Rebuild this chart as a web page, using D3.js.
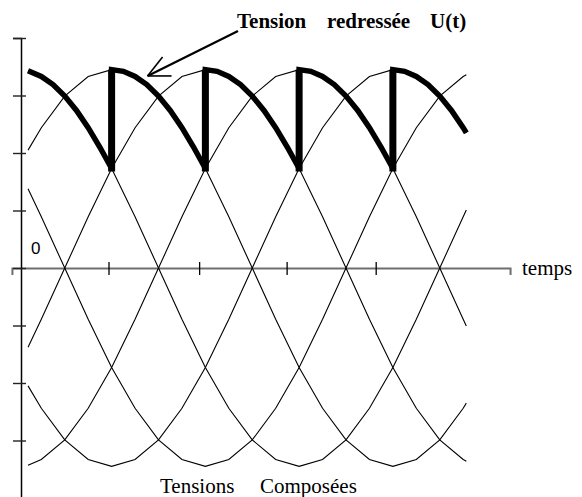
<!DOCTYPE html>
<html>
<head>
<meta charset="utf-8">
<script src="https://cdn.jsdelivr.net/npm/d3@7"></script>
<style>
  html, body { margin: 0; padding: 0; background: #fff; }
  svg { display: block; }
  text { fill: #000; }
</style>
</head>
<body>
<script>
// Time samples (electrical degrees) shared by every waveform
const times = [4.5, 13, 28, 43, 58, 73, 88, 103, 118, 133, 148, 163, 178, 193, 208, 223, 238, 253, 268, 283, 285];

// Line voltages (tensions composées) and their opposites, in axis units
const u12 = [3.43, 3.33, 2.99, 2.44, 1.73, 0.89, 0, -0.89, -1.73, -2.44, -2.99, -3.33, -3.45, -3.33, -2.99, -2.44, -1.73, -0.89, 0, 0.89, 1.01];
const u13n = [2.05, 2.44, 2.99, 3.33, 3.45, 3.33, 2.99, 2.44, 1.73, 0.89, 0, -0.89, -1.73, -2.44, -2.99, -3.33, -3.45, -3.33, -2.99, -2.44, -2.35];
const u23 = [-1.38, -0.89, 0, 0.89, 1.73, 2.44, 2.99, 3.33, 3.45, 3.33, 2.99, 2.44, 1.73, 0.89, 0, -0.89, -1.73, -2.44, -2.99, -3.33, -3.36];
const u21 = [-3.43, -3.33, -2.99, -2.44, -1.73, -0.89, 0, 0.89, 1.73, 2.44, 2.99, 3.33, 3.45, 3.33, 2.99, 2.44, 1.73, 0.89, 0, -0.89, -1.01];
const u31 = [-2.05, -2.44, -2.99, -3.33, -3.45, -3.33, -2.99, -2.44, -1.73, -0.89, 0, 0.89, 1.73, 2.44, 2.99, 3.33, 3.45, 3.33, 2.99, 2.44, 2.35];
const u32 = [1.38, 0.89, 0, -0.89, -1.73, -2.44, -2.99, -3.33, -3.45, -3.33, -2.99, -2.44, -1.73, -0.89, 0, 0.89, 1.73, 2.44, 2.99, 3.33, 3.36];
const lineVoltages = [u12, u13n, u23, u21, u31, u32];

// Rectified voltage U(t): follows each line voltage for 60°, then jumps to the next one
const redT = [4.5, 13, 20.5, 28, 35.5, 43, 50.5, 58,
  58, 65.5, 73, 80.5, 88, 95.5, 103, 110.5, 118,
  118, 125.5, 133, 140.5, 148, 155.5, 163, 170.5, 178,
  178, 185.5, 193, 200.5, 208, 215.5, 223, 230.5, 238,
  238, 245.5, 253, 260.5, 268, 275.5, 283, 285];
const redU = [3.43, 3.33, 3.19, 2.99, 2.74, 2.44, 2.10, 1.73,
  3.45, 3.42, 3.33, 3.19, 2.99, 2.74, 2.44, 2.10, 1.73,
  3.45, 3.42, 3.33, 3.19, 2.99, 2.74, 2.44, 2.10, 1.73,
  3.45, 3.42, 3.33, 3.19, 2.99, 2.74, 2.44, 2.10, 1.73,
  3.45, 3.42, 3.33, 3.19, 2.99, 2.74, 2.44, 2.35];

// Axis ticks
const yTicks = [-4, -3, -2, -1, 0, 1, 2, 3, 4];
const xTicks = [56, 114, 170, 227];

const W = 582, H = 497;
const svg = d3.select("body").append("svg").attr("width", W).attr("height", H);

const x = d3.scaleLinear().domain([0, 360]).range([21, 583.5]);
const y = d3.scaleLinear().domain([-4, 4]).range([498, 38]);

// Horizontal time axis (grey), crossing the vertical axis at 0
const xAxisScale = d3.scaleLinear().domain([-5.8, 313]).range([x(-5.8), x(313)]);
const gx = svg.append("g").attr("transform", `translate(0,${y(0)})`)
  .call(d3.axisBottom(xAxisScale).tickValues(xTicks).tickSizeOuter(0).tickSize(7).tickFormat(""));
gx.select(".domain").attr("stroke", "#6e6e6e").attr("stroke-width", 2);
gx.selectAll(".tick line").attr("y1", -6).attr("y2", 7).attr("stroke", "#000").attr("stroke-width", 1.3);

// Vertical axis
const gy = svg.append("g").attr("transform", `translate(${x(0)},0)`)
  .call(d3.axisLeft(y).tickValues(yTicks).tickSizeOuter(0).tickSize(8).tickFormat(""));
gy.select(".domain").attr("stroke", "#000").attr("stroke-width", 1.5);
gy.selectAll(".tick line").attr("x1", 5).attr("x2", -8).attr("stroke", "#222").attr("stroke-width", 1.4);

// Thin line-voltage curves
const line = d3.line().x((d, i) => x(times[i])).y(d => y(d));
svg.append("g").selectAll("path").data(lineVoltages).join("path")
  .attr("d", line)
  .attr("fill", "none").attr("stroke", "#000").attr("stroke-width", 1.1);

// Bold rectified voltage
const redLine = d3.line().x((d, i) => x(redT[i])).y(d => y(d));
svg.append("path").attr("d", redLine(redU))
  .attr("fill", "none").attr("stroke", "#000").attr("stroke-width", 5.5)
  .attr("stroke-linejoin", "miter").attr("stroke-miterlimit", 2);

// Commutation jumps drawn heavier
const jumps = redT.map((t, i) => i).filter(i => i > 0 && redT[i] === redT[i - 1]);
svg.append("g").selectAll("line").data(jumps).join("line")
  .attr("x1", i => x(redT[i])).attr("x2", i => x(redT[i]))
  .attr("y1", i => y(redU[i - 1]) + 3).attr("y2", i => y(redU[i]))
  .attr("stroke", "#000").attr("stroke-width", 7);

// Labels
const serif = "'Liberation Serif', 'Times New Roman', serif";
svg.append("text").attr("x", 31).attr("y", 254)
  .style("font-family", "'Liberation Sans', Arial, sans-serif").style("font-size", "17px").text("0");
svg.append("text").attr("x", 522).attr("y", 275)
  .style("font-family", serif).style("font-size", "21px").text("temps");

const title = [["Tension", 237], ["redressée", 327], ["U(t)", 430]];
svg.append("g").selectAll("text").data(title).join("text")
  .attr("x", d => d[1]).attr("y", 28)
  .style("font-family", serif).style("font-size", "21px").style("font-weight", "bold")
  .text(d => d[0]);

const caption = [["Tensions", 160], ["Composées", 260]];
svg.append("g").selectAll("text").data(caption).join("text")
  .attr("x", d => d[1]).attr("y", 493)
  .style("font-family", serif).style("font-size", "21px")
  .text(d => d[0]);

// Arrow from the title to the rectified curve
const tip = [x(81), y(3.34)];
const arrow = svg.append("g").attr("stroke", "#000").attr("fill", "none").attr("stroke-linecap", "butt");
arrow.append("line").attr("x1", 238).attr("y1", 31).attr("x2", tip[0]).attr("y2", tip[1]).attr("stroke-width", 2.2);
arrow.append("line").attr("x1", tip[0]).attr("y1", tip[1]).attr("x2", tip[0] + 15).attr("y2", tip[1] - 19).attr("stroke-width", 1.6);
arrow.append("line").attr("x1", tip[0]).attr("y1", tip[1]).attr("x2", tip[0] + 24).attr("y2", tip[1]).attr("stroke-width", 1.6);
</script>
</body>
</html>
